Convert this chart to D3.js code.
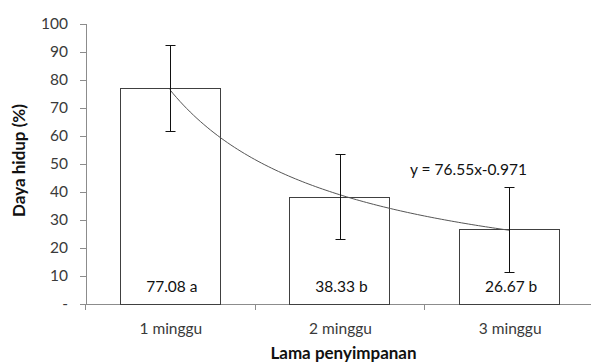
<!DOCTYPE html>
<html>
<head>
<meta charset="utf-8">
<script src="https://cdn.jsdelivr.net/npm/d3@7"></script>
<style>
  html, body { margin: 0; padding: 0; background: #fff; }
  svg { display: block; font-family: Lato, "Open Sans", sans-serif; }
</style>
</head>
<body>
<svg id="chart" width="591" height="363"></svg>
<script>
// Storage duration categories and viability means with standard deviations
const categories = ["1 minggu", "2 minggu", "3 minggu"];
const values = [77.08, 38.33, 26.67];
const errors = [15.3, 15.1, 15.1];
const letters = ["a", "b", "b"];
const yTicks = [0, 10, 20, 30, 40, 50, 60, 70, 80, 90, 100];
// Power trendline y = a * x^b
const trendA = 76.55;
const trendB = -0.971;
const equationLabel = "y = 76.55x-0.971";

const svg = d3.select("#chart");
const margin = { left: 86, right: -3, top: 24, bottom: 59 };
const W = 591, H = 363;
const fontSize = "15.5px";
const titleSize = "17px";

const x = d3.scaleBand()
  .domain(categories)
  .range([margin.left - 1, W - margin.right])
  .paddingInner(0.41)
  .paddingOuter(0.205);

const y = d3.scaleLinear().domain([0, 100]).range([H - margin.bottom, margin.top]);

const axisColor = "#8c8c8c";
const textColor = "#3a3a3a";

// Y axis
const yAxis = svg.append("g")
  .attr("transform", `translate(${margin.left},0)`)
  .call(d3.axisLeft(y).tickValues(yTicks).tickSize(6).tickPadding(12)
    .tickFormat(d => d === 0 ? "-" : d));
yAxis.select(".domain").attr("stroke", axisColor).attr("d", `M0.5,${y(100)}V${y(0)}`);
yAxis.selectAll(".tick line").attr("stroke", axisColor);
yAxis.selectAll(".tick text").attr("fill", textColor).style("font-size", fontSize)
  .style("font-family", "Lato, sans-serif");

// X axis baseline and category boundary ticks
const x0 = x.range()[0];
const step = x.step();
const xAxisG = svg.append("g").attr("transform", `translate(0,${y(0)})`);
xAxisG.append("line")
  .attr("x1", margin.left - 6).attr("x2", W)
  .attr("y1", 0.5).attr("y2", 0.5)
  .attr("stroke", axisColor);
xAxisG.selectAll("line.bound")
  .data(d3.range(categories.length + 1))
  .join("line")
  .attr("class", "bound")
  .attr("x1", i => Math.round(x0 + i * step) + 0.5)
  .attr("x2", i => Math.round(x0 + i * step) + 0.5)
  .attr("y1", 0).attr("y2", 6)
  .attr("stroke", axisColor);
xAxisG.selectAll("text.cat")
  .data(categories)
  .join("text")
  .attr("class", "cat")
  .attr("x", d => x(d) + x.bandwidth() / 2 + 1)
  .attr("y", 29.5)
  .attr("text-anchor", "middle")
  .attr("fill", textColor)
  .style("font-size", fontSize)
  .text(d => d);

// Bars
svg.append("g").selectAll("rect")
  .data(values)
  .join("rect")
  .attr("x", (d, i) => Math.round(x(categories[i])) + 0.5)
  .attr("y", d => Math.round(y(d)) + 0.5)
  .attr("width", Math.round(x.bandwidth()))
  .attr("height", d => Math.round(y(0)) - Math.round(y(d)))
  .attr("fill", "#fff")
  .attr("stroke", "#404040")
  .attr("stroke-width", 1);

// Value labels inside bars
svg.append("g").selectAll("text")
  .data(values)
  .join("text")
  .attr("x", (d, i) => x(categories[i]) + x.bandwidth() / 2 + 2)
  .attr("y", y(0) - 12.5)
  .attr("text-anchor", "middle")
  .attr("fill", "#111")
  .style("font-size", fontSize)
  .text((d, i) => `${d.toFixed(2)} ${letters[i]}`);

// Power trendline through category positions 1..3
const cx = i => x(categories[i]) + x.bandwidth() / 2;
const xPos = d3.scaleLinear().domain([1, categories.length]).range([cx(0), cx(categories.length - 1)]);
const trendPts = d3.range(1, categories.length + 0.0001, 0.02).map(t => [xPos(t), y(trendA * Math.pow(t, trendB))]);
svg.append("path")
  .attr("d", d3.line().curve(d3.curveMonotoneX)(trendPts))
  .attr("fill", "none")
  .attr("stroke", "#555")
  .attr("stroke-width", 1);

// Error bars
const capW = 5;
const eb = svg.append("g").attr("stroke", "#111").attr("stroke-width", 1);
values.forEach((v, i) => {
  const c = Math.round(cx(i)) + 0.5;
  const top = Math.round(y(v + errors[i])) + 0.5;
  const bot = Math.round(y(v - errors[i])) + 0.5;
  eb.append("line").attr("x1", c).attr("x2", c).attr("y1", top).attr("y2", bot);
  eb.append("line").attr("x1", c - capW).attr("x2", c + capW).attr("y1", top).attr("y2", top);
  eb.append("line").attr("x1", c - capW).attr("x2", c + capW).attr("y1", bot).attr("y2", bot);
});

// Trendline equation
svg.append("text")
  .attr("x", 410)
  .attr("y", 175)
  .attr("fill", "#111")
  .style("font-size", fontSize)
  .text(equationLabel);

// Axis titles
svg.append("text")
  .attr("x", 343.5)
  .attr("y", 359)
  .attr("text-anchor", "middle")
  .attr("fill", "#111")
  .style("font-size", titleSize)
  .style("font-weight", "bold")
  .text("Lama penyimpanan");

svg.append("text")
  .attr("transform", `translate(25,160.5) rotate(-90)`)
  .attr("text-anchor", "middle")
  .attr("fill", "#111")
  .style("font-size", titleSize)
  .style("font-weight", "bold")
  .text("Daya hidup (%)");
</script>
</body>
</html>
